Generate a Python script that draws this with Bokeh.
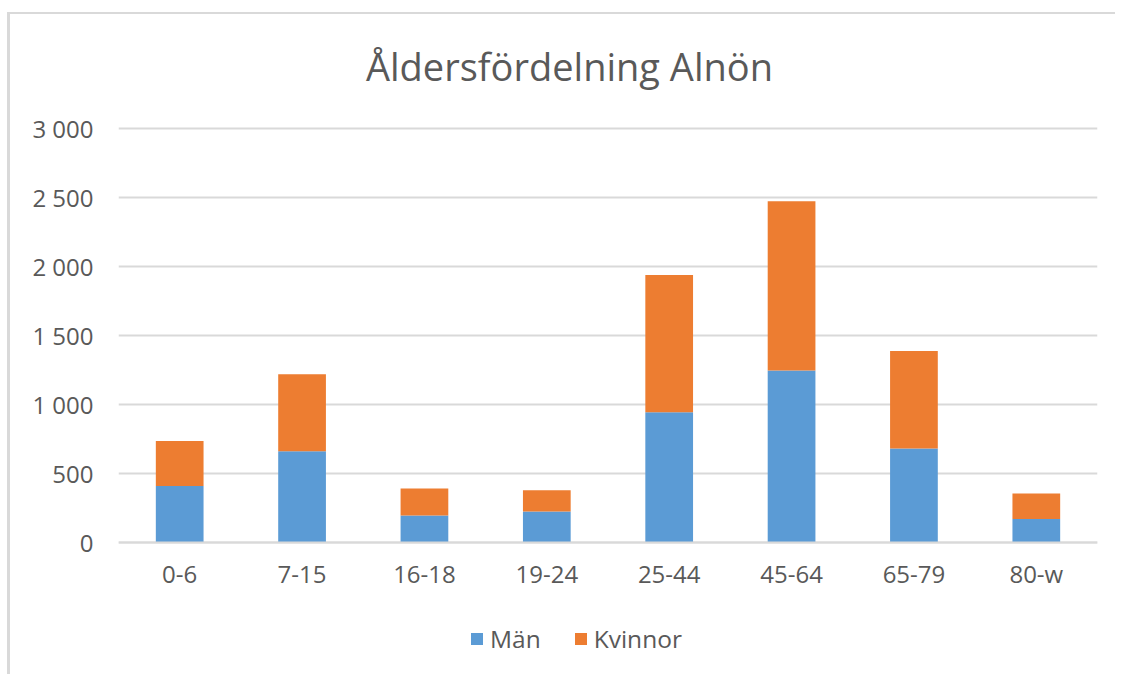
from bokeh.plotting import figure
from bokeh.models import FixedTicker, Legend, LegendItem, ColumnDataSource, FactorRange, Label
from bokeh.embed import file_html
from bokeh.resources import INLINE

categories = ["0-6", "7-15", "16-18", "19-24", "25-44", "45-64", "65-79", "80-w"]
man = [410, 662, 196, 225, 944, 1246, 681, 170]
kvinnor = [326, 558, 195, 154, 995, 1227, 707, 185]
y_ticks = [0, 500, 1000, 1500, 2000, 2500, 3000]
y_tick_labels = ["0", "500", "1 000", "1 500", "2 000", "2 500", "3 000"]
series = ["Män", "Kvinnor"]
colors = ["#5B9BD5", "#ED7D31"]
title_text = "Åldersfördelning Alnön"

FONT = "Open Sans"
GREY = "#595959"

source = ColumnDataSource(dict(cat=categories, man=man, kvinnor=kvinnor))

# canvas starts at page (10, 14); frame spans page y 14..660, value 0 at y=542, 3000 at y=128
p = figure(
    x_range=FactorRange(*categories, range_padding=0),
    y_range=(-855.1, 3826.1),
    width=1108, height=662,
    output_backend="svg", toolbar_location=None,
    min_border_left=108, min_border_right=21,
    min_border_top=0, min_border_bottom=16,
)
p.styles = {"margin-left": "7px", "margin-top": "12px",
            "border-left": "3px solid #D9D9D9", "border-top": "2px solid #D9D9D9"}
p.outline_line_color = None
p.background_fill_color = "white"
p.border_fill_color = "white"

renderers = p.vbar_stack(["man", "kvinnor"], x="cat", width=0.39, source=source,
                         color=colors, line_color=None)

p.add_layout(Label(x=3.685, y=3450, text=title_text, text_align="center",
                   text_baseline="alphabetic", text_font=FONT, text_font_size="38px",
                   text_color=GREY))

# Axes
p.yaxis.ticker = FixedTicker(ticks=y_ticks)
p.yaxis.major_label_overrides = {t: l for t, l in zip(y_ticks, y_tick_labels)}
p.yaxis.axis_line_color = None
p.yaxis.major_tick_line_color = None
p.yaxis.minor_tick_line_color = None
p.yaxis.major_label_standoff = 19
p.yaxis.major_label_text_font = FONT
p.yaxis.major_label_text_font_size = "24px"
p.yaxis.major_label_text_color = GREY

p.xaxis.fixed_location = 0
p.xaxis.axis_line_color = "#D9D9D9"
p.xaxis.axis_line_width = 2
p.xaxis.major_tick_line_color = None
p.xaxis.minor_tick_line_color = None
p.xaxis.major_label_standoff = 9
p.xaxis.major_label_text_font = FONT
p.xaxis.major_label_text_font_size = "24px"
p.xaxis.major_label_text_color = GREY

p.xgrid.grid_line_color = None
p.ygrid.grid_line_color = "#D9D9D9"
p.ygrid.grid_line_width = 2

legend = Legend(
    items=[LegendItem(label=s, renderers=[r]) for s, r in zip(series, renderers)],
    orientation="horizontal",
    location=(351, 5),
    border_line_color=None,
    background_fill_alpha=0,
    padding=0, margin=0,
    spacing=32,
    glyph_width=15, glyph_height=15,
    label_standoff=6,
    label_text_font=FONT,
    label_text_font_size="24.5px",
    label_text_color=GREY,
    label_height=20,
)
p.add_layout(legend, "center")

open("out.html", "w").write(file_html(p, INLINE))
